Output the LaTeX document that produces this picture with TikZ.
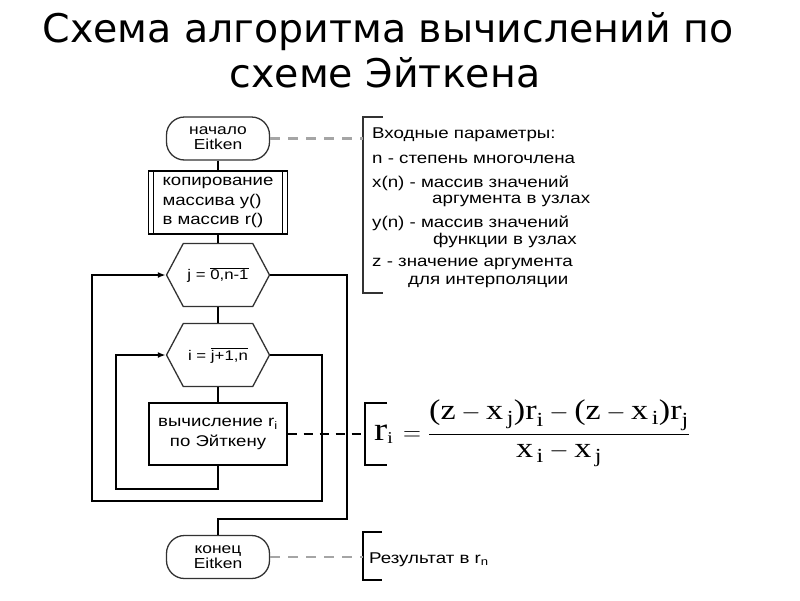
\documentclass[tikz,border=0pt]{standalone}
\usepackage{fontspec}
\usepackage{amsmath}
\usetikzlibrary{arrows.meta, positioning, shapes.symbols, calc}
\setmainfont{Liberation Sans}
\newfontfamily\titlefont{DejaVu Sans}
\newfontfamily\fcfont[FakeStretch=1.2]{Liberation Sans}
\newfontfamily\tms[FakeStretch=1.2]{Liberation Serif}
\newcommand{\tv}[1]{\text{\tms #1}}
\definecolor{lineGray}{RGB}{50,50,50}
\definecolor{dashGray}{RGB}{165,165,165}

\begin{document}
\begin{tikzpicture}[x=1pt, y=-1pt,
    titleText/.style={font=\titlefont\fontsize{39.5}{44}\selectfont, anchor=base},
    chartText/.style={font=\fcfont\fontsize{15.5}{19.5}\selectfont},
    termBox/.style={draw=lineGray, line width=1.3pt, rounded corners=18pt,
      minimum width=103pt, minimum height=43pt, inner sep=0pt, align=center,
      font=\fcfont\fontsize{14.5}{15}\selectfont},
    copyBox/.style={chartText, draw=black, line width=1.3pt, minimum width=139pt,
      minimum height=63pt, inner sep=0pt, align=left,
      path picture={
        \draw[line width=1.3pt] ([xshift=5pt]path picture bounding box.north west)
          -- ([xshift=5pt]path picture bounding box.south west);
        \draw[line width=1.3pt] ([xshift=-5pt]path picture bounding box.north east)
          -- ([xshift=-5pt]path picture bounding box.south east);}},
    procBox/.style={chartText, draw=black, line width=1.3pt, minimum width=138pt,
      minimum height=62pt, inner sep=0pt, align=center},
    hexLoop/.style={font=\fcfont\fontsize{14}{17}\selectfont, shape=signal,
      signal to=west and east, signal pointer angle=124, draw=lineGray,
      line width=1.3pt, minimum width=103pt, minimum height=63pt, inner sep=0pt},
    noteText/.style={font=\fcfont\fontsize{15.6}{19}\selectfont, anchor=base west, inner sep=0pt},
    flowLine/.style={line width=1.6pt, black},
    flowArrow/.style={flowLine, -{Latex[length=8pt, width=6pt]}},
    grayDash/.style={line width=2.5pt, dashGray, dash pattern=on 10pt off 8pt},
    blackDash/.style={line width=1.6pt, black, dash pattern=on 9pt off 7pt},
    brk/.style={line width=1.6pt}]
  \useasboundingbox (0,0) rectangle (800,600);

  % title
  \node[titleText] (title1) at (388,42) {Схема алгоритма вычислений по};
  \node[titleText] (title2) at (385,87) {схеме Эйткена};

  % main column
  \node[termBox] (start) at (218,138.5) {начало\\Eitken};
  \node[copyBox] (copy) at (218,202.5) {копирование\\массива y()\\в массив r()};
  \node[hexLoop] (hexj) at (218,275) {j = $\overline{\hbox{0,n-1}}$};
  \node[hexLoop] (hexi) at (218,355) {i = $\overline{\hbox{j+1,n}}$};
  \node[procBox] (calc) at (218,434) {вычисление r\textsubscript{i}\\по Эйткену};
  \node[termBox] (finish) at (218,557) {конец\\Eitken};

  \draw[flowLine] (start) -- (copy);
  \draw[flowLine] (copy) -- (hexj);
  \draw[flowLine] (hexj) -- (hexi);
  \draw[flowLine] (hexi) -- (calc);

  % loops
  \coordinate (calcBack) at (116,489);
  \coordinate (iExit) at (322,501);
  \coordinate (iBack) at (92,501);
  \coordinate (jExit) at (347,519);
  \draw[flowArrow] (calc.south) |- (calcBack) |- (hexi.west);
  \draw[flowArrow] (hexi.east) -| (iExit) -- (iBack) |- (hexj.west);
  \draw[flowLine] (hexj.east) -| (jExit) -| (finish.north);

  % input parameters
  \coordinate (inBrk) at (363,117);
  \draw[brk, lineGray] (383,117) -| (363,293) -- (383,293);
  \draw[grayDash] (start.east) -- (start.east -| inBrk);
  \node[noteText] (p1) at (372,138) {Входные параметры:};
  \node[noteText] (p2) at (372,163) {n - степень многочлена};
  \node[noteText] (p3) at (372,187) {x(n) - массив значений};
  \node[noteText] (p4) at (432,203) {аргумента в узлах};
  \node[noteText] (p5) at (372,227) {y(n) - массив значений};
  \node[noteText] (p6) at (433,244) {функции в узлах};
  \node[noteText] (p7) at (372,266) {z - значение аргумента};
  \node[noteText] (p8) at (408,284) {для интерполяции};

  % formula
  \coordinate (fBrk) at (365,403);
  \draw[brk] (387,403) -| (365,465) -- (387,465);
  \draw[blackDash] (calc.east) -- (calc.east -| fBrk);
  \node[anchor=base west, inner sep=0pt, font=\fontsize{33}{36}\selectfont] (lhs) at (374,440)
    {$\tv{r}_{\scriptscriptstyle\tv{i}}$};
  \node[anchor=west, inner sep=0pt, font=\fontsize{28.5}{31}\selectfont] (rhs) at (403,433)
    {$= \dfrac{\tv{(z} - \tv{x}_{\,\tv{j}}\tv{)r}_{\tv{i}} - \tv{(z} - \tv{x}_{\,\tv{i}}\tv{)r}_{\tv{j}}}{\tv{x}_{\,\tv{i}} - \tv{x}_{\,\tv{j}}}$};

  % result
  \coordinate (resBrk) at (363,532);
  \draw[brk] (382,532) -| (363,580) -- (382,580);
  \draw[grayDash] (finish.east) -- (finish.east -| resBrk);
  \node[noteText] (res) at (369,563) {Результат в r\textsubscript{n}};
\end{tikzpicture}
\end{document}
